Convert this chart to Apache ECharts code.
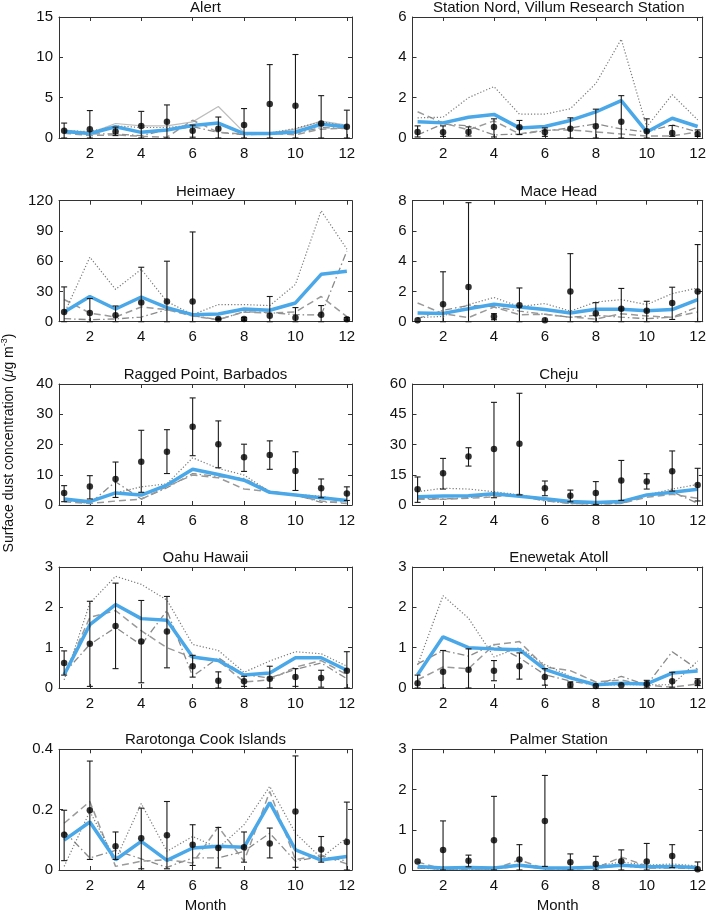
<!DOCTYPE html>
<html><head><meta charset="utf-8">
<script src="https://cdn.jsdelivr.net/npm/echarts@6/dist/echarts.min.js"></script>
<style>html,body{margin:0;padding:0;background:#fff}#c{width:709px;height:914px}</style>
</head><body><div id="c"></div><script>
const months = [1,2,3,4,5,6,7,8,9,10,11,12];
const monthTicks = [2,4,6,8,10,12];

// Alert
const alertObs = [0.9,1.1,0.8,1.5,2.0,0.9,1.15,1.6,4.2,4.0,1.8,1.4];
const alertHi = [1.85,3.4,1.35,3.3,4.1,1.6,2.6,3.65,9.1,10.35,5.25,3.45];
const alertLo = [0,0,0.3,0,0,0.1,0,0,0,0,0,0];
const alertModel = [0.8,0.55,1.4,0.7,1.0,1.55,1.85,0.55,0.55,0.75,1.7,1.4];
const alertDotted = [0.9,0.8,1.5,1.3,1.3,1.6,1.8,0.6,0.6,1.2,2.0,1.5];
const alertDashed = [0.6,0.3,0.4,0.2,0.1,2.2,0.7,0.5,0.6,0.4,1.1,1.2];
const alertDashDot = [0.8,0.5,0.5,0.3,1.0,1.4,0.7,0.4,0.5,0.6,1.3,1.2];
const alertLight = [1.0,0.6,1.8,1.5,1.5,2.0,3.9,0.7,0.6,1.1,2.1,1.6];

// Station Nord
const nordObs = [0.3,0.28,0.3,0.55,0.53,0.28,0.46,0.58,0.8,0.33,0.25,0.2];
const nordHi = [0.6,0.6,0.55,0.95,0.87,0.5,1.0,1.43,2.1,0.95,0.62,0.4];
const nordLo = [0.05,0.08,0.1,0.05,0.17,0.08,0,0,0,0,0.08,0.08];
const nordModel = [0.8,0.75,1.03,1.17,0.5,0.57,0.87,1.3,1.85,0.3,0.98,0.57];
const nordDotted = [1.0,1.03,2.0,2.55,1.18,1.18,1.45,2.7,4.9,0.55,2.15,0.9];
const nordDashed = [1.3,0.75,0.4,0.85,0.2,0.4,0.4,0.3,0.2,0.1,0.1,0.3];
const nordDashDot = [0.15,0.7,0.6,0.15,0.2,0.35,0.5,0.7,0.45,0.3,0.65,0.3];

// Heimaey
const heimObs = [9.6,8.6,6.3,19,20,20,2.7,2.7,6,4,7,2.5];
const heimHi = [34.5,23,15.6,54,60,89,3.5,4,25,14,16,4];
const heimLo = [0,0,0,0,0,0,2,1.5,0,0,0,1.5];
const heimModel = [9.6,25,12.6,24.5,14,7,7.6,12.6,11.3,18.6,47,50];
const heimDotted = [8,64,32,52,20,7,17,17,16,37,110,72];
const heimDashed = [22,8.6,4.6,14.6,12,5.6,2,9.6,8.6,9.6,25,5];
const heimDashDot = [3,2,2.7,4.6,12,6,2,10,9,7,6.6,70];

// Mace Head
const maceObs = [0.1,1.15,2.3,0.35,1.08,0.1,2.0,0.55,0.86,0.73,1.24,2.0];
const maceHi = [0.1,3.3,7.87,0.53,2.23,0.1,4.5,1.26,2.2,1.35,2.28,5.1];
const maceLo = [0.1,0,0,0.13,0,0.1,0,0,0,0,0.15,0];
const maceModel = [0.57,0.55,0.86,1.15,0.97,0.8,0.57,0.82,0.82,0.73,0.8,1.46];
const maceDotted = [0.27,0.35,1.13,1.6,1.0,1.2,0.7,1.3,1.46,1.13,1.86,2.23];
const maceDashed = [1.24,0.53,0.27,0.97,0.46,0.49,0.3,0.18,0.53,0.38,0.29,0.64];
const maceDashDot = [0.2,0.75,1.08,1.0,0.7,0.49,0.3,0.42,0.3,0.2,0.3,0.97];

// Ragged Point, Barbados
const raggObs = [4.0,6.1,8.6,14.3,17.6,25.9,20.1,15.8,16.5,11.2,5.5,3.8];
const raggHi = [6.4,9.7,14.2,24.7,24.9,35.4,27.8,20.1,21.2,17.6,8.6,6.0];
const raggLo = [1.1,2.0,2.5,4.2,10.4,16.3,12.3,11.1,11.8,4.8,2.4,1.5];
const raggModel = [2.0,1.1,4.0,3.3,6.6,11.8,10.1,8.2,4.2,3.3,2.4,1.5];
const raggDotted = [1.4,1.1,4,6,7,15.6,12.1,9.9,4.4,3.5,2.9,1.3];
const raggDashed = [1.1,0.5,1.3,1.9,6.1,9.9,9.0,5.3,4.4,3.2,1.3,0.5];
const raggDashDot = [1.7,0.5,7.7,2.0,5.7,10.4,9.4,8.8,4.6,3.3,0.9,1.1];

// Cheju
const chejuObs = [7.8,15.7,24,27.8,30.4,8.3,4.6,6,12.2,11.6,16.7,9.9];
const chejuHi = [13.9,23.1,28.4,50.9,55.4,11.9,7.4,11.6,22.1,15.5,26.8,18.2];
const chejuLo = [1.3,7.9,19.3,3.6,5,4.6,1.6,0.3,2.3,7.9,6.9,2.0];
const chejuModel = [4.1,4.5,4.6,5.6,4.3,3.1,1.7,1.3,1.7,5.0,6.3,7.8];
const chejuDotted = [6.6,8.3,7.9,6.6,5,3,1.3,0.8,1.3,5,7.9,10.2];
const chejuDashed = [2.8,2.8,3.3,4.1,5.3,2.3,0.8,0.5,0.8,3.8,5.3,3.3];
const chejuDashDot = [3.3,3,3.6,5,4.5,2,0.7,0.5,0.8,4.6,6.6,0.8];

// Oahu Hawaii
const oahuObs = [0.62,1.1,1.54,1.15,1.4,0.54,0.18,0.17,0.23,0.27,0.25,0.43];
const oahuHi = [0.92,2.15,2.6,2.17,2.27,0.81,0.4,0.29,0.54,0.48,0.44,0.9];
const oahuLo = [0.32,0.04,0.48,0.13,0.5,0.27,0,0.04,0,0.04,0.02,0];
const oahuModel = [0.33,1.57,2.07,1.72,1.68,0.77,0.68,0.32,0.37,0.75,0.75,0.44];
const oahuDotted = [0.2,2.1,2.77,2.57,2.18,1.08,0.93,0.39,0.67,0.9,0.85,0.54];
const oahuDashed = [0.33,1.75,1.92,1.42,1.0,0.75,0.68,0.15,0.2,0.52,0.68,0.33];
const oahuDashDot = [0.37,1.08,1.5,1.07,1.92,0.29,0.75,0.33,0.25,0.46,0.62,0.23];

// Enewetak Atoll
const eneObs = [0.12,0.4,0.45,0.43,0.54,0.27,0.08,0.05,0.07,0.1,0.17,0.14];
const eneHi = [0.32,0.93,0.97,0.68,0.87,0.48,0.15,0.05,0.07,0.19,0.39,0.23];
const eneLo = [0,0,0,0.18,0.22,0.07,0.02,0.05,0.07,0.02,0.02,0.06];
const eneModel = [0.33,1.27,1.0,0.97,0.95,0.46,0.25,0.08,0.12,0.1,0.37,0.42];
const eneDotted = [0.57,2.29,1.73,0.77,1.0,0.58,0.29,0.07,0.08,0.08,0.08,0.67];
const eneDashed = [0.2,0.52,0.48,1.07,1.15,0.52,0.43,0.15,0.2,0.07,0.02,0.1];
const eneDashDot = [0.6,0.93,0.79,1.08,0.75,0.33,0.17,0.07,0.29,0.07,0.9,0.46];

// Rarotonga Cook Islands
const raroObs = [0.117,0.198,0.079,0.105,0.115,0.084,0.073,0.075,0.088,0.194,0.068,0.093];
const raroHi = [0.198,0.361,0.126,0.205,0.227,0.15,0.141,0.126,0.139,0.378,0.111,0.225];
const raroLo = [0.031,0.035,0.035,0.004,0.004,0.015,0.007,0.026,0.04,0.009,0.026,0];
const raroModel = [0.099,0.159,0.034,0.095,0.032,0.073,0.079,0.075,0.223,0.067,0.033,0.045];
const raroDotted = [0.012,0.194,0.034,0.22,0.062,0.111,0.073,0.15,0.277,0.122,0.04,0.107];
const raroDashed = [0.155,0.227,0.012,0.029,0.034,0.023,0.143,0.029,0.26,0.034,0.05,0.02];
const raroDashDot = [0.128,0.04,0.065,0.037,0.009,0.04,0.04,0.062,0.122,0.029,0.045,0.03];

// Palmer Station
const palmObs = [0.21,0.5,0.23,0.74,0.26,1.22,0.19,0.15,0.22,0.21,0.35,0.02];
const palmHi = [0.21,1.22,0.37,1.83,0.63,2.35,0.4,0.34,0.5,0.66,0.63,0.2];
const palmLo = [0.21,0,0.08,0,0,0.09,0,0,0,0,0.06,0];
const palmModel = [0.09,0.05,0.06,0.05,0.12,0.05,0.05,0.07,0.12,0.08,0.09,0.06];
const palmDotted = [0.05,0.02,0.03,0.03,0.15,0.04,0.05,0.1,0.2,0.12,0.15,0.1];
const palmDashed = [0.2,0.02,0.03,0.02,0.25,0.03,0.03,0.05,0.32,0.1,0.08,0.05];
const palmDashDot = [0.05,0.02,0.02,0.02,0.1,0.03,0.02,0.05,0.1,0.05,0.05,0.03];

const titles = ['Alert','Station Nord, Villum Research Station','Heimaey','Mace Head','Ragged Point, Barbados','Cheju','Oahu Hawaii','Enewetak Atoll','Rarotonga Cook Islands','Palmer Station'];
const yMax = [15,6,120,8,40,60,3,3,0.4,3];
const yStep = [5,2,30,2,10,15,1,1,0.2,1];

const panels = [
  [alertObs,alertLo,alertHi,alertModel,alertDotted,alertDashed,alertDashDot,alertLight],
  [nordObs,nordLo,nordHi,nordModel,nordDotted,nordDashed,nordDashDot],
  [heimObs,heimLo,heimHi,heimModel,heimDotted,heimDashed,heimDashDot],
  [maceObs,maceLo,maceHi,maceModel,maceDotted,maceDashed,maceDashDot],
  [raggObs,raggLo,raggHi,raggModel,raggDotted,raggDashed,raggDashDot],
  [chejuObs,chejuLo,chejuHi,chejuModel,chejuDotted,chejuDashed,chejuDashDot],
  [oahuObs,oahuLo,oahuHi,oahuModel,oahuDotted,oahuDashed,oahuDashDot],
  [eneObs,eneLo,eneHi,eneModel,eneDotted,eneDashed,eneDashDot],
  [raroObs,raroLo,raroHi,raroModel,raroDotted,raroDashed,raroDashDot],
  [palmObs,palmLo,palmHi,palmModel,palmDotted,palmDashed,palmDashDot]
];

const FONT = "'Liberation Sans', Arial, sans-serif";
const FS = 15;
const colLeft = [59, 412.5];
const colW = [293, 292.5];
const rowTop = [17, 200.7, 384, 567, 749.3];
const H = 121;
const AX = '#333';

const grids = [], xAxes = [], yAxes = [], series = [], graphics = [];
panels.forEach((p, i) => {
  const col = i % 2, row = Math.floor(i / 2);
  const left = colLeft[col], top = rowTop[row], w = colW[col];
  grids.push({left: left, top: top, width: w, height: H, containLabel: false});
  const bottomRow = row === 4;
  xAxes.push({
    gridIndex: i, type: 'value', min: 0.8, max: 12.2, position: 'bottom',
    axisLine: {show: true, onZero: false, lineStyle: {color: AX, width: 1}},
    axisTick: {show: true, inside: true, length: 4, customValues: monthTicks, lineStyle: {color: AX}},
    axisLabel: {show: true, customValues: monthTicks, margin: 8, fontSize: FS, color: '#111', fontFamily: FONT},
    splitLine: {show: false},
    name: bottomRow ? 'Month' : '', nameLocation: 'middle', nameGap: 28,
    nameTextStyle: {fontSize: FS, color: '#111', fontFamily: FONT}
  });
  xAxes.push({
    gridIndex: i, type: 'value', min: 0.8, max: 12.2, position: 'top',
    axisLine: {show: true, onZero: false, lineStyle: {color: AX, width: 1}},
    axisTick: {show: true, inside: true, length: 4, customValues: monthTicks, lineStyle: {color: AX}},
    axisLabel: {show: false}, splitLine: {show: false}
  });
  yAxes.push({
    gridIndex: i, type: 'value', min: 0, max: yMax[i], interval: yStep[i], position: 'left',
    axisLine: {show: true, onZero: false, lineStyle: {color: AX, width: 1}},
    axisTick: {show: true, inside: true, length: 4, lineStyle: {color: AX}},
    axisLabel: {show: true, margin: 6, fontSize: FS, color: '#111', fontFamily: FONT},
    splitLine: {show: false}
  });
  yAxes.push({
    gridIndex: i, type: 'value', min: 0, max: yMax[i], interval: yStep[i], position: 'right',
    axisLine: {show: true, onZero: false, lineStyle: {color: AX, width: 1}},
    axisTick: {show: true, inside: true, length: 4, lineStyle: {color: AX}},
    axisLabel: {show: false}, splitLine: {show: false}
  });
  const xi = 2 * i, yi = 2 * i;
  const [obs, lo, hi, model, dotted, dashed, dashdot, light] = p;
  const pairs = arr => months.map((m, k) => [m, arr[k]]);
  const lineS = (arr, color, width, type, z) => ({
    type: 'line', xAxisIndex: xi, yAxisIndex: yi, data: pairs(arr), showSymbol: false, symbol: 'none',
    lineStyle: {color: color, width: width, type: type}, z: z, silent: true, animation: false
  });
  if (light) series.push(lineS(light, '#bdbdbd', 1.2, 'solid', 2));
  series.push(lineS(dashdot, '#8a8a8a', 1.3, [7, 3, 1.5, 3], 2));
  series.push(lineS(dashed, '#9a9a9a', 1.5, [7, 4], 2));
  series.push(lineS(dotted, '#7a7a7a', 1.2, [1.2, 2], 2));
  series.push(lineS(model, '#4aa8e8', 3.5, 'solid', 3));
  series.push({
    type: 'custom', xAxisIndex: xi, yAxisIndex: yi, z: 4, silent: true, animation: false,
    data: months.map((m, k) => [m, lo[k], hi[k]]),
    encode: {x: 0, y: [1, 2]},
    renderItem: (params, api) => {
      const x = api.value(0), a = api.value(1), b = api.value(2);
      if (b - a <= 0) return {type: 'group', children: []};
      const p1 = api.coord([x, a]), p2 = api.coord([x, b]);
      const cw = 3;
      const st = {stroke: '#1a1a1a', lineWidth: 1.1};
      return {type: 'group', children: [
        {type: 'line', shape: {x1: p1[0], y1: p1[1], x2: p2[0], y2: p2[1]}, style: st},
        {type: 'line', shape: {x1: p2[0] - cw, y1: p2[1], x2: p2[0] + cw, y2: p2[1]}, style: st},
        {type: 'line', shape: {x1: p1[0] - cw, y1: p1[1], x2: p1[0] + cw, y2: p1[1]}, style: st}
      ]};
    }
  });
  series.push({
    type: 'scatter', xAxisIndex: xi, yAxisIndex: yi, data: pairs(obs), symbol: 'circle', symbolSize: 6.5,
    itemStyle: {color: '#000'}, z: 5, silent: true, animation: false
  });
  graphics.push({
    type: 'text', x: left + w / 2, y: top - 9,
    style: {text: titles[i], fill: '#111', font: FS + 'px ' + FONT, textAlign: 'center', textVerticalAlign: 'middle'}
  });
});

graphics.push({
  type: 'text', x: 9, y: 443, rotation: Math.PI / 2,
  style: {
    text: '{a|Surface dust concentration (}{i|μ}{a|g m}{s|-3}{a|)}',
    textAlign: 'center', textVerticalAlign: 'middle',
    rich: {
      a: {fontSize: 14, fontFamily: FONT, fill: '#111', lineHeight: 18},
      i: {fontSize: 14, fontFamily: FONT, fontStyle: 'italic', fill: '#111', lineHeight: 18},
      s: {fontSize: 9, fontFamily: FONT, fill: '#111', verticalAlign: 'top', lineHeight: 18}
    }
  }
});

const chart = echarts.init(document.getElementById('c'), null, {renderer: 'canvas'});
chart.setOption({
  animation: false,
  backgroundColor: '#fff',
  grid: grids, xAxis: xAxes, yAxis: yAxes, series: series, graphic: graphics
});
</script></body></html>
